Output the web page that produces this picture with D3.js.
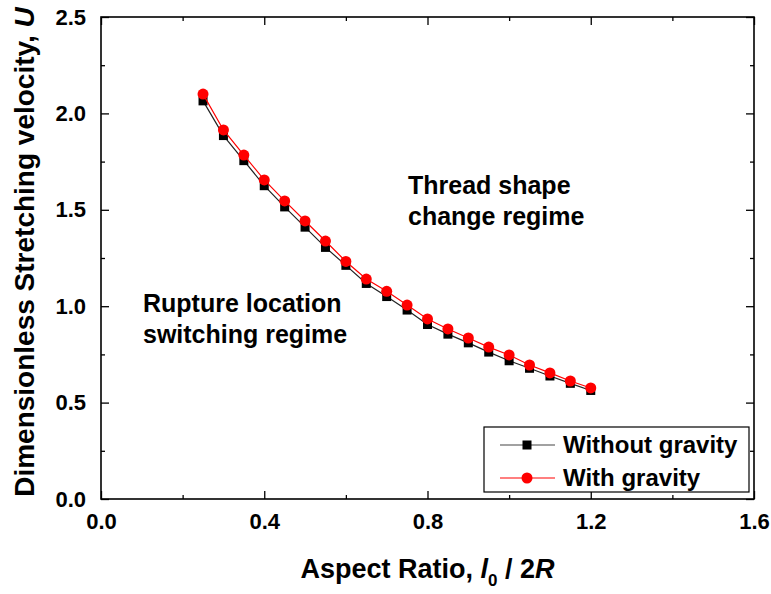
<!DOCTYPE html>
<html><head><meta charset="utf-8">
<script src="https://cdn.jsdelivr.net/npm/d3@7"></script>
<style>
body{margin:0;background:#fff}
svg text{font-family:"Liberation Sans",Arial,sans-serif;font-weight:bold;fill:#000}
</style>
</head><body>
<svg id="chart" width="771" height="594"></svg>
<script>
const aspectRatio = [0.25,0.30,0.35,0.40,0.45,0.50,0.55,0.60,0.65,0.70,0.75,0.80,0.85,0.90,0.95,1.00,1.05,1.10,1.15,1.20];
const withoutGravity = [2.065,1.885,1.755,1.625,1.515,1.410,1.305,1.212,1.118,1.050,0.980,0.905,0.855,0.810,0.762,0.717,0.678,0.638,0.600,0.563];
const withGravity    = [2.100,1.914,1.784,1.655,1.546,1.442,1.338,1.232,1.141,1.077,1.006,0.934,0.882,0.835,0.788,0.747,0.695,0.654,0.612,0.576];
const seriesNames = ["Without gravity","With gravity"];
const xMajor = [0,0.4,0.8,1.2,1.6];
const xMinor = [0.2,0.6,1.0,1.4];
const yMajor = [0,0.5,1.0,1.5,2.0,2.5];
const yMinor = [0.25,0.75,1.25,1.75,2.25];

const svg = d3.select("#chart");
const L=101, R=754, T=17, B=499;
const x = d3.scaleLinear().domain([0,1.6]).range([L,R]);
const y = d3.scaleLinear().domain([0,2.5]).range([B,T]);

svg.append("rect").attr("width",771).attr("height",594).attr("fill","#fff");

const fmt = d3.format(".1f");
const gx = svg.append("g").attr("transform",`translate(0,${B})`)
  .call(d3.axisBottom(x).tickValues(xMajor).tickFormat(fmt).tickSize(-8).tickPadding(13));
gx.append("g").call(d3.axisBottom(x).tickValues(xMinor).tickFormat("").tickSize(-4));
const gxt = svg.append("g").attr("transform",`translate(0,${T})`)
  .call(d3.axisTop(x).tickValues(xMajor).tickFormat("").tickSize(-8));
gxt.append("g").call(d3.axisTop(x).tickValues(xMinor).tickFormat("").tickSize(-4));
const gy = svg.append("g").attr("transform",`translate(${L},0)`)
  .call(d3.axisLeft(y).tickValues(yMajor).tickFormat(fmt).tickSize(-8).tickPadding(15));
gy.append("g").call(d3.axisLeft(y).tickValues(yMinor).tickFormat("").tickSize(-4));
const gyr = svg.append("g").attr("transform",`translate(${R},0)`)
  .call(d3.axisRight(y).tickValues(yMajor).tickFormat("").tickSize(-8));
gyr.append("g").call(d3.axisRight(y).tickValues(yMinor).tickFormat("").tickSize(-4));

svg.selectAll(".domain").attr("stroke","none");
svg.selectAll(".tick line").attr("stroke","#000").attr("stroke-width",1.3);
svg.selectAll(".tick text").style("font-size","22px").style("font-family",'"Liberation Sans",Arial,sans-serif').style("font-weight","bold").attr("fill","#000");
gx.selectAll(".tick text").attr("dy","0.75em");

svg.append("rect").attr("x",L).attr("y",T).attr("width",R-L).attr("height",B-T)
  .attr("fill","none").attr("stroke","#000").attr("stroke-width",1.6);

const d0 = aspectRatio.map((a,i)=>[a,withoutGravity[i]]);
const d1 = aspectRatio.map((a,i)=>[a,withGravity[i]]);
const line = d3.line().x(d=>x(d[0])).y(d=>y(d[1]));
svg.append("path").datum(d0).attr("d",line).attr("fill","none").attr("stroke","#222").attr("stroke-width",1.2);
svg.selectAll(".sq").data(d0).enter().append("rect")
  .attr("x",d=>x(d[0])-4.5).attr("y",d=>y(d[1])-4.5).attr("width",9).attr("height",9).attr("fill","#000");
svg.append("path").datum(d1).attr("d",line).attr("fill","none").attr("stroke","#ff0000").attr("stroke-width",1.2);
svg.selectAll(".ci").data(d1).enter().append("circle")
  .attr("cx",d=>x(d[0])).attr("cy",d=>y(d[1])).attr("r",5.5).attr("fill","#ff0000");

const ann = [["Thread shape",408,194],["change regime",408,225],["Rupture location",143,312],["switching regime",143,343]];
svg.selectAll(".ann").data(ann).enter().append("text")
  .attr("x",d=>d[1]).attr("y",d=>d[2]).style("font-size","25px").text(d=>d[0]);

svg.append("rect").attr("x",484).attr("y",427).attr("width",265).attr("height",65)
  .attr("fill","#fff").attr("stroke","#000").attr("stroke-width",1.2);
const legY = [445,478];
svg.append("line").attr("x1",500).attr("x2",555).attr("y1",legY[0]).attr("y2",legY[0]).attr("stroke","#444").attr("stroke-width",1.2);
svg.append("rect").attr("x",527-4.5).attr("y",legY[0]-4.5).attr("width",9).attr("height",9).attr("fill","#000");
svg.append("line").attr("x1",500).attr("x2",555).attr("y1",legY[1]).attr("y2",legY[1]).attr("stroke","#ff0000").attr("stroke-width",1.2);
svg.append("circle").attr("cx",527).attr("cy",legY[1]).attr("r",5.5).attr("fill","#ff0000");
seriesNames.forEach((n,i)=>{
  svg.append("text").attr("x",563).attr("y",legY[i]+8).style("font-size","24px").text(n);
});

const xt = svg.append("text").attr("x",(L+R)/2).attr("y",578).attr("text-anchor","middle").style("font-size","27px");
xt.append("tspan").text("Aspect Ratio, ");
xt.append("tspan").style("font-style","italic").text("l");
xt.append("tspan").attr("dy",8).style("font-size","17px").text("0");
xt.append("tspan").attr("dy",-8).text(" / 2");
xt.append("tspan").style("font-style","italic").text("R");

const yt = svg.append("text").attr("transform",`translate(34,${(T+B)/2-6}) rotate(-90)`).attr("text-anchor","middle").style("font-size","28px");
yt.append("tspan").text("Dimensionless Stretching velocity, ");
yt.append("tspan").style("font-style","italic").text("U");
</script>
</body></html>
